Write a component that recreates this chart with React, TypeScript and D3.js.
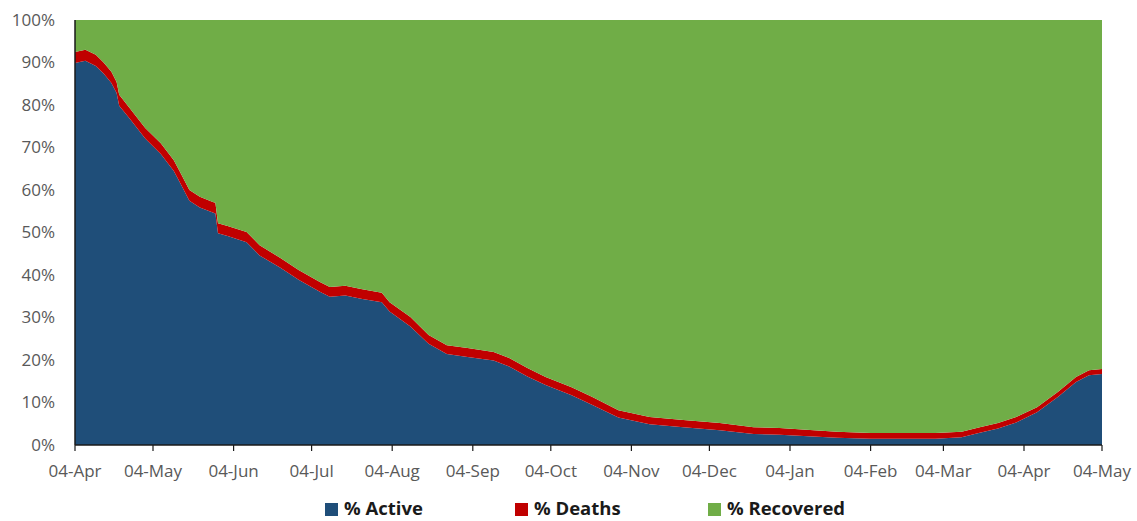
import React from "react";
import * as d3 from "d3";

const dates: string[] = [
  "2020-04-04","2020-04-08","2020-04-12","2020-04-15","2020-04-18","2020-04-20","2020-04-21","2020-04-25",
  "2020-05-01","2020-05-07","2020-05-12","2020-05-14","2020-05-18","2020-05-22","2020-05-27","2020-05-28",
  "2020-05-29","2020-06-02","2020-06-09","2020-06-14","2020-06-22","2020-06-29","2020-07-07","2020-07-11",
  "2020-07-17","2020-07-23","2020-07-31","2020-08-03","2020-08-11","2020-08-18","2020-08-25","2020-09-02",
  "2020-09-12","2020-09-18","2020-09-25","2020-10-02","2020-10-12","2020-10-20","2020-10-30","2020-11-11",
  "2020-11-24","2020-12-08","2020-12-21","2020-12-31","2021-01-22","2021-02-04","2021-03-01","2021-03-11",
  "2021-03-18","2021-03-25","2021-04-01","2021-04-09","2021-04-17","2021-04-24","2021-04-29","2021-05-04",
];

const activePct: number[] = [
  89.9, 90.4, 89.2, 87.4, 85.2, 82.8, 79.8, 76.8,
  72.1, 68.5, 64.5, 62.2, 57.5, 55.9, 54.7, 54.5,
  49.8, 49.1, 47.7, 44.6, 41.7, 38.9, 36.1, 34.9,
  35.2, 34.4, 33.6, 31.4, 27.9, 23.8, 21.4, 20.7,
  19.9, 18.5, 16.1, 14.1, 11.7, 9.4, 6.5, 4.9,
  4.2, 3.5, 2.6, 2.4, 1.7, 1.5, 1.5, 1.8,
  2.9, 3.9, 5.3, 7.7, 11.3, 14.8, 16.4, 16.7,
];

const deathsPct: number[] = [
  2.6, 2.6, 2.6, 2.6, 2.6, 2.6, 2.6, 2.5,
  2.5, 2.5, 2.5, 2.5, 2.5, 2.5, 2.5, 2.5,
  2.4, 2.4, 2.4, 2.4, 2.3, 2.3, 2.3, 2.3,
  2.3, 2.3, 2.2, 2.2, 2.2, 2.1, 2.1, 2.1,
  2.0, 2.0, 2.0, 1.9, 1.9, 1.9, 1.7, 1.7,
  1.7, 1.7, 1.6, 1.6, 1.4, 1.3, 1.3, 1.3,
  1.3, 1.3, 1.3, 1.2, 1.2, 1.2, 1.2, 1.2,
];

const xTickDates: string[] = [
  "2020-04-04","2020-05-04","2020-06-04","2020-07-04","2020-08-04","2020-09-04","2020-10-04",
  "2020-11-04","2020-12-04","2021-01-04","2021-02-04","2021-03-04","2021-04-04","2021-05-04",
];
const yTicks: number[] = [0, 10, 20, 30, 40, 50, 60, 70, 80, 90, 100];

const seriesNames: string[] = ["% Active", "% Deaths", "% Recovered"];
const seriesColors: string[] = ["#1F4E79", "#C00000", "#70AD47"];

const W = 1137;
const H = 521;
const left = 75;
const right = 1102;
const top = 20;
const bottom = 445;

export default function App() {
  const parse = d3.utcParse("%Y-%m-%d");
  const rows = dates.map((d, i) => ({
    date: parse(d) as Date,
    active: activePct[i],
    deaths: deathsPct[i],
    recovered: 100 - activePct[i] - deathsPct[i],
  }));
  const x = d3
    .scaleUtc()
    .domain([parse(xTickDates[0]) as Date, parse(xTickDates[xTickDates.length - 1]) as Date])
    .range([left, right]);
  const y = d3.scaleLinear().domain([0, 100]).range([bottom, top]);
  const keys = ["active", "deaths", "recovered"];
  const stacked = d3.stack<any>().keys(keys)(rows);
  const area = d3
    .area<any>()
    .x((d) => x(d.data.date))
    .y0((d) => y(d[0]))
    .y1((d) => y(d[1]))
    .curve(d3.curveLinear);
  const fmt = d3.utcFormat("%d-%b");
  const font = "'Open Sans', 'Liberation Sans', sans-serif";

  const legendItems = [
    { x: 325, name: seriesNames[0], color: seriesColors[0] },
    { x: 515, name: seriesNames[1], color: seriesColors[1] },
    { x: 708, name: seriesNames[2], color: seriesColors[2] },
  ];

  return (
    <svg
      width={W}
      height={H}
      style={{ position: "absolute", left: 0, top: 0, background: "#fff" }}
    >
      <rect x={0} y={0} width={W} height={H} fill="#fff" />
      {stacked.map((s, i) => (
        <path key={s.key} d={area(s as any) || ""} fill={seriesColors[i]} />
      ))}
      <line x1={left} x2={left} y1={top} y2={bottom} stroke="#1a1a1a" strokeWidth={1.5} />
      <line x1={left} x2={right} y1={bottom} y2={bottom} stroke="#1a1a1a" strokeWidth={1.5} />
      {xTickDates.map((d) => {
        const dt = parse(d) as Date;
        const xx = x(dt);
        return (
          <g key={d}>
            <line x1={xx} x2={xx} y1={bottom} y2={bottom + 6} stroke="#1a1a1a" strokeWidth={1.2} />
            <text
              x={xx}
              y={477}
              textAnchor="middle"
              fontFamily={font}
              fontSize={17}
              fill="#595959"
            >
              {fmt(dt)}
            </text>
          </g>
        );
      })}
      {yTicks.map((t) => (
        <text
          key={t}
          x={55}
          y={y(t)}
          dy="0.35em"
          textAnchor="end"
          fontFamily={font}
          fontSize={17}
          fill="#595959"
        >
          {t + "%"}
        </text>
      ))}
      {legendItems.map((it) => (
        <g key={it.name}>
          <rect x={it.x} y={503} width={13} height={13} fill={it.color} />
          <text
            x={it.x + 19}
            y={515}
            fontFamily={font}
            fontWeight="bold"
            fontSize={18.5}
            fill="#1a1a1a"
          >
            {it.name}
          </text>
        </g>
      ))}
    </svg>
  );
}
